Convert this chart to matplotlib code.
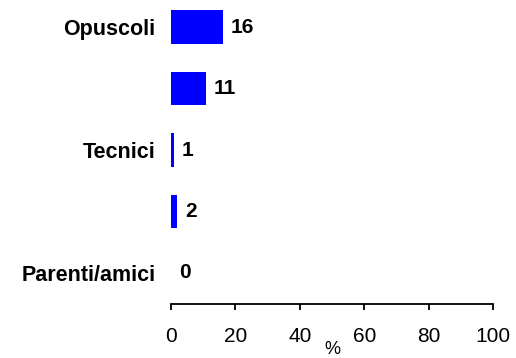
import matplotlib
matplotlib.use("agg")
import matplotlib.pyplot as plt

# categories from top to bottom; empty strings are unlabelled rows
categories = ["Opuscoli", "", "Tecnici", "", "Parenti/amici"]
values = [16, 11, 1, 2, 0]
value_labels = ["16", "11", "1", "2", "0"]
x_ticks = [0, 20, 40, 60, 80, 100]

plt.rcParams["font.family"] = ["Liberation Sans", "DejaVu Sans"]

fig = plt.figure(figsize=(5.16, 3.58), dpi=100)
ax = fig.add_axes([171 / 516, 1 - 303.75 / 358, 322 / 516, 307.5 / 358])

pos = list(range(len(categories)))
ax.barh(pos, values, height=0.54, color="#0000ff", left=0)

for p, v, lab in zip(pos, values, value_labels):
    ax.annotate(lab, (v, p), xytext=(5.5, 0), textcoords="offset points",
                ha="left", va="center", fontsize=15, fontweight="bold")

ax.set_xlim(0, 100)
ax.set_ylim(len(categories) - 0.5, -0.5)
ax.set_yticks(pos)
ax.set_yticklabels(categories, fontsize=15.5, fontweight="bold")
ax.tick_params(axis="y", length=0, pad=11)

ax.set_xticks(x_ticks)
ax.tick_params(axis="x", direction="out", length=4, width=1.3, labelsize=15, pad=13)
ax.set_xlabel("%", fontsize=13, labelpad=-4)

for s in ["left", "right", "top"]:
    ax.spines[s].set_visible(False)
ax.spines["bottom"].set_linewidth(1.3)

fig.savefig("out.png", dpi=100)
